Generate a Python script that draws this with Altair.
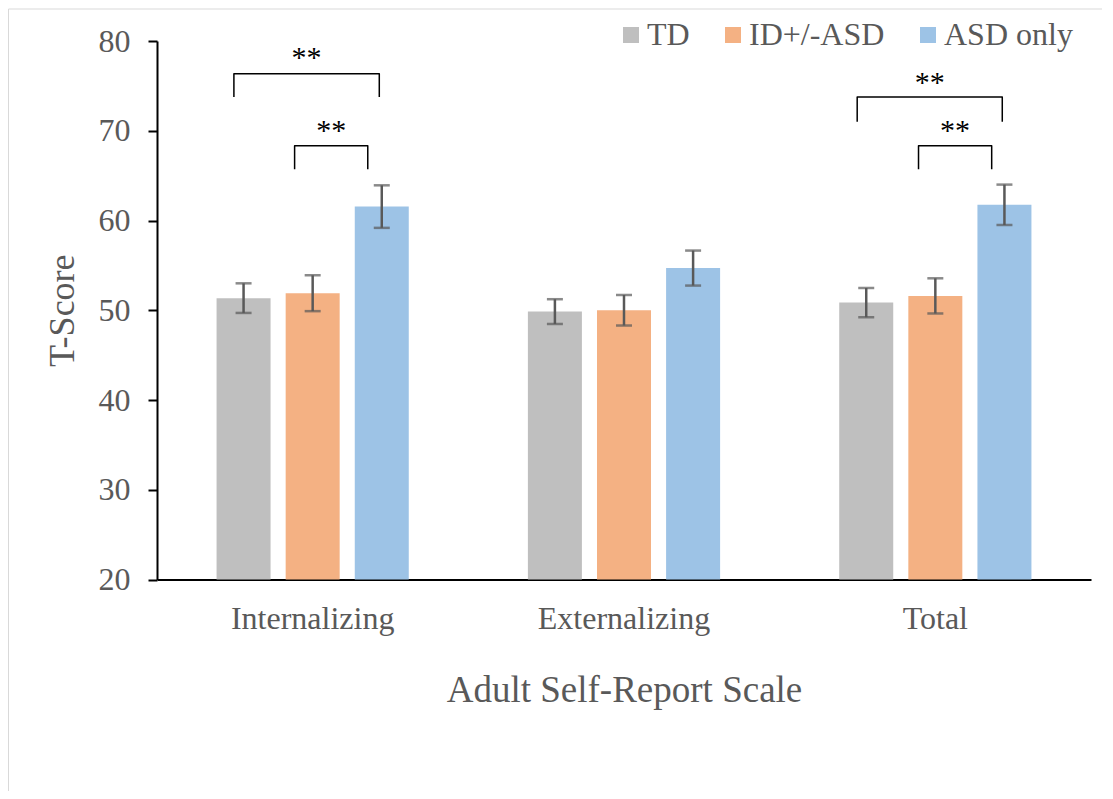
import altair as alt
import pandas as pd

categories = ["Internalizing", "Externalizing", "Total"]
groups = ["TD", "ID+/-ASD", "ASD only"]
colors = ["#bfbfbf", "#f4b183", "#9dc3e6"]

td_mean = [51.35, 49.85, 50.85]
id_mean = [51.9, 50.0, 51.6]
asd_mean = [61.55, 54.7, 61.75]
td_err = [1.65, 1.38, 1.63]
id_err = [2.0, 1.7, 1.96]
asd_err = [2.37, 1.95, 2.25]

# significance brackets (x in category units, y in T-score units)
br_start = [0.247, 0.442, 2.249, 2.446]
br_end = [0.714, 0.677, 2.715, 2.681]
br_top = [76.36, 68.34, 73.76, 68.34]
br_leg = [73.76, 65.71, 71.0, 65.71]
br_label_y = [77.15, 69.0, 74.32, 69.0]
br_label = ["**", "**", "**", "**"]

FONT = "Liberation Serif, Times New Roman, serif"
TXT = "#595959"

rows = []
for g, means, errs in zip(groups, [td_mean, id_mean, asd_mean], [td_err, id_err, asd_err]):
    for c, m, e in zip(categories, means, errs):
        rows.append({"category": c, "group": g, "mean": m, "lo": m - e, "hi": m + e})
df = pd.DataFrame(rows)

brows = []
for i in range(len(br_start)):
    pts = [(br_start[i], br_leg[i]), (br_start[i], br_top[i]), (br_end[i], br_top[i]), (br_end[i], br_leg[i])]
    for k, (bx, by) in enumerate(pts):
        brows.append({"bid": i, "ord": k, "bx": bx, "by": by})
bdf = pd.DataFrame(brows)
ldf = pd.DataFrame({"s": br_start, "e": br_end, "y": br_label_y, "label": br_label})

yscale = alt.Scale(domain=[20, 80], nice=False, zero=False)
yaxis = alt.Axis(values=[20, 30, 40, 50, 60, 70, 80], grid=False, domainColor="black", domainWidth=2,
                 tickColor="black", tickWidth=2, tickSize=9, labelPadding=18,
                 labelFont=FONT, labelFontSize=32, labelColor=TXT,
                 titleFont=FONT, titleFontSize=36, titleColor=TXT, titleFontWeight="normal",
                 titlePadding=17)

x_enc = alt.X("category:N", sort=categories, title="Adult Self-Report Scale",
              scale=alt.Scale(paddingInner=0, paddingOuter=0),
              axis=alt.Axis(labelAngle=0, ticks=False, domainColor="black", domainWidth=2,
                            labelFont=FONT, labelFontSize=32, labelColor=TXT, labelPadding=24,
                            titleFont=FONT, titleFontSize=37, titleColor=TXT, titleFontWeight="normal",
                            titlePadding=38))
xoff = alt.XOffset("group:N", sort=groups, scale=alt.Scale(paddingInner=0.2185, paddingOuter=0.862))

base = alt.Chart(df)
bars = base.mark_bar().encode(
    x=x_enc, xOffset=xoff,
    y=alt.Y("mean:Q", scale=yscale, axis=yaxis, title="T-Score"),
    y2=alt.datum(20),
    color=alt.Color("group:N", sort=groups, scale=alt.Scale(domain=groups, range=colors),
                    legend=alt.Legend(title=None, orient="none", legendX=458, legendY=-22,
                                      direction="horizontal", symbolType="square", symbolSize=256,
                                      symbolStrokeWidth=0, symbolOpacity=1,
                                      labelFont=FONT, labelFontSize=32, labelColor=TXT,
                                      labelOffset=0, columnPadding=27, padding=0)),
)
err = base.mark_rule(color="#595959", strokeWidth=2.5).encode(
    x=x_enc, xOffset=xoff,
    y=alt.Y("lo:Q", scale=yscale, title="T-Score"), y2="hi:Q")
caps = base.transform_fold(["lo", "hi"], as_=["k", "v"]).mark_tick(
    color="#595959", thickness=2.5, size=16, orient="horizontal").encode(
    x=x_enc, xOffset=xoff, y=alt.Y("v:Q", scale=yscale, title="T-Score"))

main = alt.layer(bars, err, caps)

bx = alt.X("bx:Q", scale=alt.Scale(domain=[0, 3], nice=False, zero=False), axis=None)
lines = alt.Chart(bdf).mark_line(color="black", strokeWidth=1.5, strokeJoin="round").encode(
    x=bx, y=alt.Y("by:Q", scale=yscale, title="T-Score"), detail="bid:N", order="ord:Q")
labels = alt.Chart(ldf).transform_calculate(mid="(datum.s + datum.e) / 2").mark_text(
    font=FONT, fontSize=30, color="black", baseline="alphabetic", align="center").encode(
    x=alt.X("mid:Q", scale=alt.Scale(domain=[0, 3], nice=False, zero=False), axis=None),
    y=alt.Y("y:Q", scale=yscale, title="T-Score"), text="label:N")

one = pd.DataFrame({"a": [0]})
frame_left = alt.Chart(one).mark_rule(color="#d9d9d9", strokeWidth=1).encode(
    x=alt.value(-148.5), y=alt.value(-32), y2=alt.value(750))
frame_top = alt.Chart(one).mark_rule(color="#d9d9d9", strokeWidth=1).encode(
    x=alt.value(-148.5), x2=alt.value(945), y=alt.value(-32))

ann = alt.layer(lines, labels)

chart = alt.layer(frame_left, frame_top, main, ann).resolve_scale(x="independent").properties(
    width=934, height=538.5,
    padding={"left": 0, "top": 0, "right": 0, "bottom": 0},
    autosize=alt.AutoSizeParams(type="pad"),
).configure_view(stroke=None)

chart.save("out.html", embed_options={"renderer": "svg", "actions": False})
